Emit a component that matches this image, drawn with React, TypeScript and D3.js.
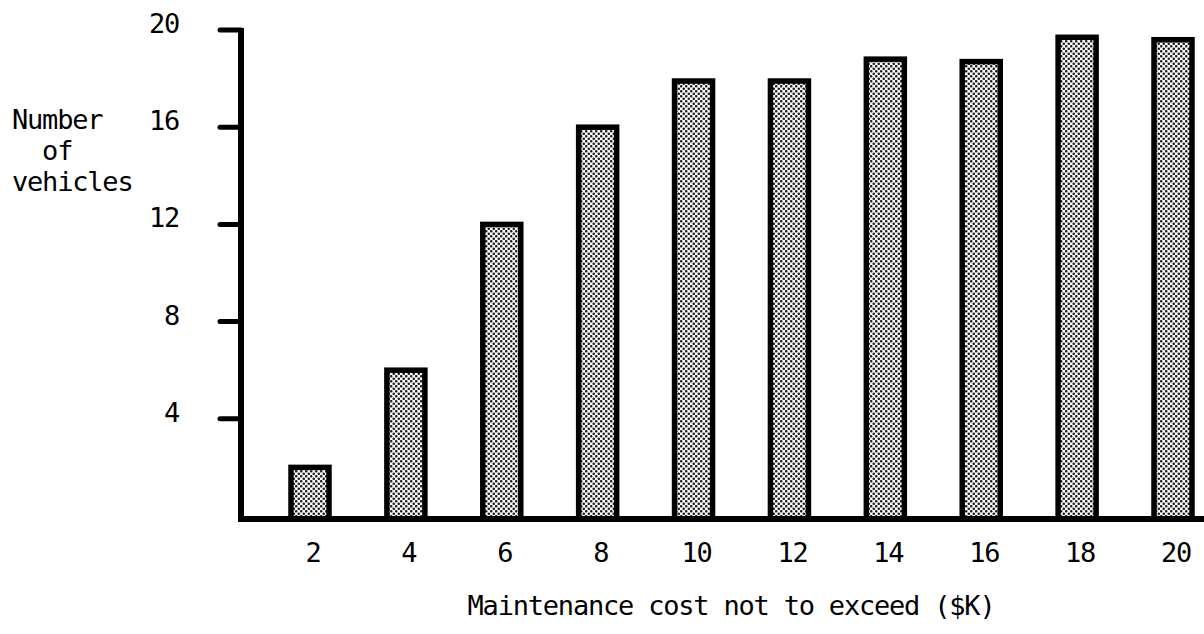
import React from "react";
import * as d3 from "d3";

const categories = ["2", "4", "6", "8", "10", "12", "14", "16", "18", "20"];
const vehicles = [2, 6, 12, 16, 17.9, 17.9, 18.8, 18.7, 19.7, 19.6];
const yTicks = [4, 8, 12, 16, 20];
const yLabelLines = ["Number", "  of", "vehicles"];
const xTitle = "Maintenance cost not to exceed ($K)";

const W = 1204;
const H = 634;
const FONT = "'DejaVu Sans Mono', 'Liberation Mono', monospace";
const FS = 27;
const LS = -1.2;

export default function App() {
  const x = d3.scalePoint<string>().domain(categories).range([310, 1173]);
  const y = d3.scaleLinear().domain([0, 20]).range([516, 30]);
  const axisX = 241;
  const baseY = 519;
  const barW = 38;

  return (
    <svg
      width={W}
      height={H}
      style={{ position: "absolute", left: 0, top: 0, background: "#fff" }}
    >
      <defs>
        <pattern id="dots" width={5} height={5} patternUnits="userSpaceOnUse">
          <rect width={5} height={5} fill="#fff" />
          <circle cx={1.25} cy={1.25} r={1.3} fill="#222" />
          <circle cx={3.75} cy={3.75} r={1.3} fill="#222" />
        </pattern>
      </defs>

      {/* bars */}
      {categories.map((c, i) => {
        const cx = x(c)!;
        const top = y(vehicles[i]);
        return (
          <rect
            key={c}
            x={cx - barW / 2}
            y={top}
            width={barW}
            height={baseY - top}
            fill="url(#dots)"
            stroke="#000"
            strokeWidth={5.5}
          />
        );
      })}

      {/* axes */}
      <line x1={axisX} x2={axisX} y1={y(20) - 2} y2={baseY + 3} stroke="#000" strokeWidth={6} />
      <line x1={axisX - 3} x2={W} y1={baseY} y2={baseY} stroke="#000" strokeWidth={6} />
      {yTicks.map((t) => (
        <g key={t}>
          <line x1={220} x2={axisX} y1={y(t)} y2={y(t)} stroke="#000" strokeWidth={5} strokeLinecap="round" />
          <text
            x={179}
            y={y(t) + 3}
            textAnchor="end"
            fontFamily={FONT}
            fontSize={FS}
            letterSpacing={LS}
            fill="#000"
          >
            {t}
          </text>
        </g>
      ))}

      {/* x tick labels */}
      {categories.map((c) => (
        <text
          key={c}
          x={x(c)! + 3}
          y={562}
          textAnchor="middle"
          fontFamily={FONT}
          fontSize={FS}
          letterSpacing={LS}
          fill="#000"
        >
          {c}
        </text>
      ))}

      {/* y title */}
      {yLabelLines.map((l, i) => (
        <text
          key={i}
          x={12}
          y={129 + i * 31}
          fontFamily={FONT}
          fontSize={FS}
          letterSpacing={LS}
          fill="#000"
          style={{ whiteSpace: "pre" }}
        >
          {l}
        </text>
      ))}

      {/* x title */}
      <text
        x={731}
        y={615}
        textAnchor="middle"
        fontFamily={FONT}
        fontSize={FS}
        letterSpacing={LS}
        fill="#000"
      >
        {xTitle}
      </text>
    </svg>
  );
}
